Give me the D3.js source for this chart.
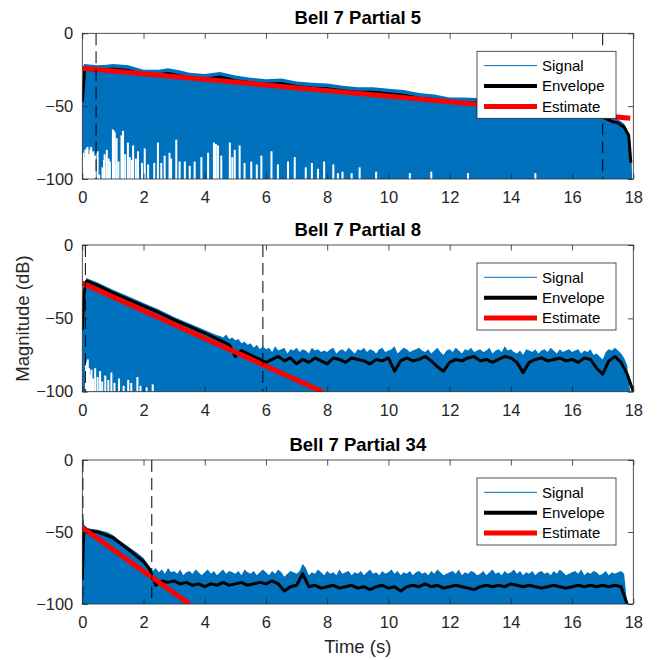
<!DOCTYPE html>
<html><head><meta charset="utf-8">
<script src="https://cdn.jsdelivr.net/npm/d3@7"></script>
<style>body{margin:0;background:#fff}svg{display:block;font-family:"Liberation Sans",Arial,sans-serif}</style>
</head><body>
<svg id="c" width="660" height="660"></svg>
<script>
// ---------------- data ----------------
const xTicks = [0, 2, 4, 6, 8, 10, 12, 14, 16, 18];
const yTicks = [0, -50, -100];
const titles = ["Bell 7 Partial 5", "Bell 7 Partial 8", "Bell 7 Partial 34"];
const legendLabels = ["Signal", "Envelope", "Estimate"];
const xLabel = "Time (s)";
const yLabel = "Magnitude (dB)";
const noiseStep = 0.1;
const envStep = 0.2;

// Partial 5
const p5Signal = [[0,-100],[0,-45],[0.05,-21],[0.3,-21.5],[0.5,-22],[0.8,-21.5],[1,-21],[1.3,-21.5],[1.5,-22],[2,-25],[2.5,-25],[2.8,-24],[3.2,-25.5],[3.5,-27],[4,-28],[4.5,-26.5],[5,-29],[5.5,-30.5],[6,-31.5],[6.5,-31],[7,-33],[7.5,-34],[8,-34.5],[8.5,-36],[9,-37],[9.5,-37],[10,-38],[10.5,-39],[11,-41],[11.5,-42],[12,-44],[12.5,-44],[13,-44.5],[13.5,-46],[14,-47],[14.5,-48],[15,-49],[15.5,-50],[16,-51],[16.5,-53],[17,-55],[17.3,-57],[17.5,-59],[17.7,-62],[17.8,-66],[17.9,-80],[17.95,-90],[17.96,-100]];
const p5Troughs = [[0.03,-82],[0.06,-85],[0.1,-80],[0.14,-79],[0.17,-78],[0.22,-83],[0.26,-80],[0.29,-78],[0.33,-82],[0.36,-81],[0.41,-84],[0.5,-81],[0.55,-97],[0.66,-92],[0.71,-87],[0.73,-83],[0.8,-80],[0.86,-86],[0.9,-88],[1.0,-66],[1.03,-67],[1.06,-68],[1.12,-72],[1.18,-88],[1.28,-70],[1.33,-67],[1.4,-83],[1.49,-75],[1.55,-85],[1.62,-87],[1.66,-77],[1.75,-86],[1.82,-81],[1.95,-89],[2.04,-79],[2.15,-90],[2.35,-89],[2.47,-75],[2.58,-89],[2.69,-84],[2.85,-82],[2.9,-86],[3.07,-73],[3.18,-88],[3.35,-88],[3.51,-91],[3.67,-88],[3.89,-85],[4.11,-82],[4.3,-75],[4.36,-76],[4.43,-77],[4.54,-84],[4.82,-75],[4.9,-85],[4.98,-80],[5.14,-77],[5.3,-89],[5.52,-88],[5.7,-90],[5.85,-84],[6.18,-81],[6.39,-90],[6.72,-88],[6.94,-85],[7.3,-92],[7.5,-89],[7.7,-93],[7.9,-88],[8.2,-90],[8.35,-96],[8.5,-95],[8.8,-96],[9.06,-92],[9.6,-95],[10.7,-96],[11.4,-95],[12.6,-96],[14.8,-96]];
const p5Envelope = [[0,-47],[0.08,-24.5],[0.5,-25.5],[1,-24.5],[1.5,-25.5],[2,-28.5],[2.5,-28.5],[2.8,-27.5],[3.5,-30.5],[4,-31.5],[4.5,-30],[5,-32.5],[5.5,-34],[6,-35],[6.5,-34.5],[7,-36.5],[7.5,-37.5],[8,-38],[8.5,-39.5],[9,-40.5],[9.5,-40.5],[10,-41.5],[10.5,-42.5],[11,-44.5],[11.5,-45.5],[12,-47.5],[12.5,-47.5],[13,-48],[13.5,-49.5],[14,-50.5],[14.5,-51.5],[15,-52.5],[15.5,-53.5],[16,-54.5],[16.5,-56.5],[17,-57.5],[17.3,-60.5],[17.5,-61.5],[17.7,-64.5],[17.85,-70],[17.92,-89]];
const p5Estimate = [[0,-24],[17.9,-58.3]];
const p5Bounds = [0.45, 17];

// Partial 8
const p8SignalHead = [[0,-100],[0,-58],[0.05,-30],[0.13,-22.5],[0.5,-25.5],[1,-30.5],[1.5,-35],[2,-39.5],[2.5,-44],[3,-49],[3.5,-53.5],[4,-58],[4.4,-61.5]];
const p8NoiseStart = 4.5;
const p8Noise = [
  -62,-63,-61,-64,-63,
  -65,-64,-67,-66,-68,-67,-70,-68,-71,-69,
  -71,-70,-73,-69,-72,-71,-70,-74,-71,-72,
  -70,-73,-71,-72,-74,-70,-72,-71,-73,-72,
  -73,-71,-70,-74,-72,-71,-73,-70,-72,-74,
  -71,-72,-70,-73,-71,-72,-74,-71,-70,-73,
  -72,-71,-69,-74,-72,-70,-71,-73,-72,-71,
  -70,-72,-73,-71,-74,-72,-70,-73,-75,-72,
  -71,-73,-70,-72,-74,-71,-72,-70,-73,-72,
  -71,-73,-72,-70,-74,-72,-71,-73,-69,-72,
  -71,-73,-74,-72,-75,-71,-72,-73,-71,-74,
  -72,-71,-73,-70,-72,-74,-71,-73,-72,-71,
  -73,-72,-71,-74,-72,-73,-71,-75,-74,-76,
  -78,-73,-71,-72,-70,-72,-74,-77,-82,-100];
const p8Troughs = [[0.12,-82],[0.15,-80],[0.18,-78],[0.22,-84],[0.25,-88],[0.3,-85],[0.35,-91],[0.42,-84],[0.5,-90],[0.58,-86],[0.65,-93],[0.75,-89],[0.85,-92],[0.95,-87],[1.05,-94],[1.2,-91],[1.35,-96],[1.5,-92],[1.6,-94],[1.8,-90],[1.9,-96],[2.1,-97],[2.3,-95]];
const p8EnvelopeHead = [[0,-58],[0.05,-35],[0.1,-26],[0.15,-24.5],[0.5,-27.5],[1,-32.5],[1.5,-37],[2,-41.5],[2.5,-46],[3,-51],[3.5,-55.5],[4,-60],[4.4,-64],[4.8,-68]];
const p8EnvStart = 5.0;
const p8EnvTail = [-76,-72,-74,-76,-78,-80,-78,-76,-79,-77,-81,-78,-80,-77,-79,-81,-77,-78,-80,-77,-78,-79,-81,-78,-79,-77,-86,-79,-77,-79,-78,-76,-79,-83,-86,-80,-78,-79,-77,-76,-79,-78,-80,-78,-76,-77,-80,-87,-80,-78,-77,-79,-78,-77,-79,-78,-80,-77,-78,-84,-88,-79,-76,-80,-88,-100];
const p8Estimate = [[0,-26],[7.85,-100]];
const p8Bounds = [0.1, 5.9];

// Partial 34
const p34SignalHead = [[0,-100],[0,-85],[0.03,-40],[0.06,-45],[0.15,-47],[0.3,-48],[0.5,-48.5],[0.8,-50],[1,-52],[1.2,-55.5],[1.5,-60],[1.8,-64.5],[2,-68],[2.2,-74]];
const p34NoiseStart = 2.3;
const p34Noise = [
  -77,-75,-78,-76,-79,-75,-78,
  -77,-79,-76,-80,-78,-77,-79,-76,-78,-80,
  -78,-76,-79,-77,-80,-78,-76,-79,-77,-78,
  -79,-77,-80,-76,-78,-79,-77,-80,-78,-76,
  -78,-80,-77,-79,-76,-78,-81,-79,-77,-78,
  -79,-77,-72,-75,-80,-78,-79,-76,-78,-80,
  -77,-79,-78,-80,-76,-79,-78,-77,-80,-78,
  -79,-77,-80,-78,-76,-79,-78,-80,-77,-79,
  -78,-76,-79,-77,-80,-78,-79,-77,-80,-78,
  -77,-79,-78,-80,-77,-79,-76,-78,-80,-79,
  -78,-77,-79,-76,-80,-78,-79,-77,-78,-80,
  -79,-77,-80,-78,-76,-79,-78,-80,-77,-79,
  -78,-76,-79,-77,-80,-78,-79,-77,-80,-78,
  -77,-79,-78,-80,-77,-79,-76,-78,-80,-79,
  -78,-77,-79,-76,-80,-78,-79,-77,-78,-80,
  -79,-77,-80,-78,-79,-78,-77,-79,-100];
const p34Troughs = [];
const p34EnvelopeHead = [[0,-83],[0.03,-60],[0.06,-47],[0.2,-49],[0.5,-50],[1,-54],[1.5,-62],[2,-70.5]];
const p34EnvStart = 2.2;
const p34EnvTail = [-76,-87,-84,-85,-84,-86,-85,-87,-86,-88,-86,-87,-85,-87,-86,-85,-87,-86,-85,-86,-84,-86,-91,-88,-87,-79,-88,-87,-89,-88,-87,-89,-88,-87,-89,-88,-90,-88,-87,-89,-88,-91,-88,-87,-88,-86,-88,-87,-89,-88,-87,-88,-89,-90,-88,-87,-88,-87,-88,-86,-87,-88,-87,-88,-89,-88,-87,-88,-89,-88,-87,-88,-87,-88,-87,-88,-87,-88,-100];
const p34Estimate = [[0,-47],[3.5,-100]];
const p34Bounds = [0.02, 2.27];

// ---------------- build ----------------
const seq = (start, step, vals) => vals.map((v, i) => [+(start + i * step).toFixed(3), v]);
const panels = [
  {title: titles[0], top: 33.3, bottom: 179, signal: p5Signal, troughs: p5Troughs, envelope: p5Envelope, estimate: p5Estimate, bounds: p5Bounds},
  {title: titles[1], top: 245, bottom: 391.7, signal: p8SignalHead.concat(seq(p8NoiseStart, noiseStep, p8Noise)), troughs: p8Troughs, envelope: p8EnvelopeHead.concat(seq(p8EnvStart, envStep, p8EnvTail)), estimate: p8Estimate, bounds: p8Bounds},
  {title: titles[2], top: 460, bottom: 604, signal: p34SignalHead.concat(seq(p34NoiseStart, noiseStep, p34Noise)), troughs: p34Troughs, envelope: p34EnvelopeHead.concat(seq(p34EnvStart, envStep, p34EnvTail)), estimate: p34Estimate, bounds: p34Bounds}
];

const svg = d3.select("#c");
const left = 82.3, right = 633.3;
const axisColor = "#262626";
const x = d3.scaleLinear().domain([0, 18]).range([left, right]);
const defs = svg.append("defs");

panels.forEach((p, i) => {
  const y = d3.scaleLinear().domain([-100, 0]).range([p.bottom, p.top]);
  defs.append("clipPath").attr("id", "clip" + i).append("rect")
    .attr("x", left).attr("y", p.top).attr("width", right - left).attr("height", p.bottom - p.top);
  const g = svg.append("g");
  const plot = g.append("g").attr("clip-path", `url(#clip${i})`);

  plot.append("path").datum(p.signal)
    .attr("fill", "#0072BD")
    .attr("d", d3.area().x(d => x(d[0])).y0(y(-100)).y1(d => y(d[1])));

  plot.selectAll("rect.tr").data(p.troughs).join("rect").attr("class", "tr")
    .attr("x", d => x(d[0]) - 1).attr("width", 2)
    .attr("y", d => y(d[1])).attr("height", d => y(-100) - y(d[1]))
    .attr("fill", "#fff");

  plot.append("path").datum(p.envelope)
    .attr("fill", "none").attr("stroke", "#000").attr("stroke-width", 3)
    .attr("stroke-linejoin", "round")
    .attr("d", d3.line().x(d => x(d[0])).y(d => y(d[1])));

  plot.append("path").datum(p.estimate)
    .attr("fill", "none").attr("stroke", "#ff0000").attr("stroke-width", 5)
    .attr("d", d3.line().x(d => x(d[0])).y(d => y(d[1])));

  plot.selectAll("line.bd").data(p.bounds).join("line").attr("class", "bd")
    .attr("x1", d => x(d)).attr("x2", d => x(d))
    .attr("y1", p.top).attr("y2", p.bottom)
    .attr("stroke", "#000").attr("stroke-width", 1).attr("stroke-dasharray", "12,6");

  // axes
  const tickLen = -5.5;
  const ax = (gen, tx, ty, labels, pad) => {
    const a = g.append("g").attr("transform", `translate(${tx},${ty})`)
      .call(gen.tickSizeInner(tickLen).tickSizeOuter(0).tickPadding(pad));
    a.select(".domain").remove();
    a.selectAll(".tick line").attr("stroke", axisColor).attr("stroke-width", 0.8);
    a.selectAll(".tick text").attr("fill", axisColor).style("font-size", "16.5px")
      .style("font-family", '"Liberation Sans", Arial, sans-serif');
    if (!labels) a.selectAll(".tick text").remove();
    return a;
  };
  ax(d3.axisBottom(x).tickValues(xTicks).tickFormat(d3.format("d")), 0, p.bottom, true, 12.5);
  ax(d3.axisTop(x).tickValues(xTicks), 0, p.top, false, 3);
  ax(d3.axisLeft(y).tickValues(yTicks).tickFormat(d3.format("d")), left, 0, true, 9);
  ax(d3.axisRight(y).tickValues(yTicks), right, 0, false, 3);

  g.append("rect").attr("x", left).attr("y", p.top)
    .attr("width", right - left).attr("height", p.bottom - p.top)
    .attr("fill", "none").attr("stroke", axisColor).attr("stroke-width", 0.8);

  g.append("text").attr("x", (left + right) / 2).attr("y", p.top - 9.5)
    .attr("text-anchor", "middle").style("font-size", "18.5px").style("font-weight", "bold")
    .attr("fill", "#000").text(p.title);

  // legend
  const lg = g.append("g").attr("transform", `translate(477,${p.top + 18})`);
  lg.append("rect").attr("width", 139).attr("height", 67)
    .attr("fill", "#fff").attr("stroke", axisColor).attr("stroke-width", 0.8);
  const styles = [{c: "#0072BD", w: 1}, {c: "#000", w: 4}, {c: "#ff0000", w: 5}];
  legendLabels.forEach((lab, k) => {
    const yy = 14.3 + 20.4 * k;
    lg.append("line").attr("x1", 7).attr("x2", 60).attr("y1", yy).attr("y2", yy)
      .attr("stroke", styles[k].c).attr("stroke-width", styles[k].w);
    lg.append("text").attr("x", 65).attr("y", yy).attr("dy", "0.35em")
      .style("font-size", "15px").attr("fill", "#000").text(lab);
  });
});

svg.append("text").attr("x", (left + right) / 2).attr("y", 653)
  .attr("text-anchor", "middle").style("font-size", "18.5px").attr("fill", axisColor).text(xLabel);
svg.append("text").attr("transform", `translate(29,318.5) rotate(-90)`)
  .attr("text-anchor", "middle").style("font-size", "18.5px").attr("fill", axisColor).text(yLabel);
</script>
</body></html>
